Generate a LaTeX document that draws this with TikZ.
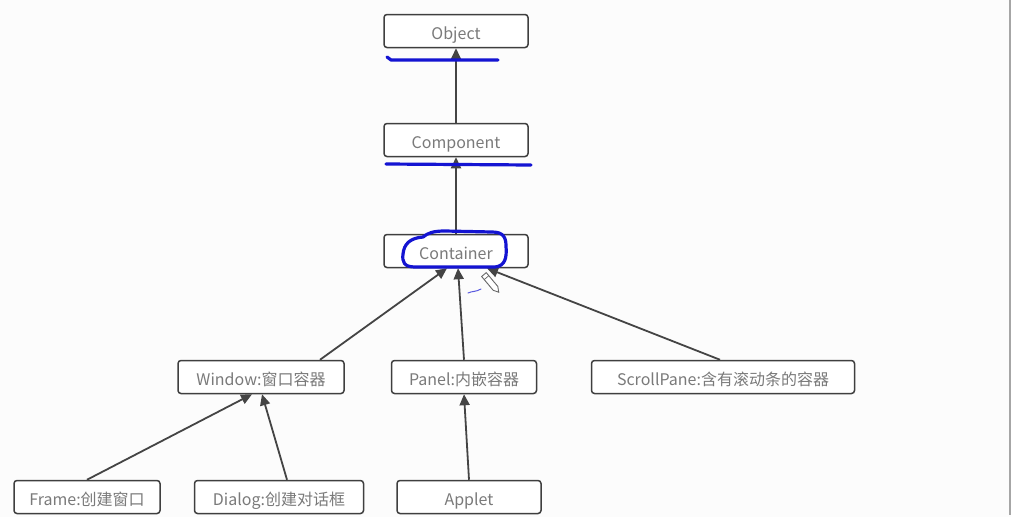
\documentclass[tikz,border=0pt]{standalone}
\usepackage{fontspec}
\setmainfont{Noto Sans CJK SC}
\usetikzlibrary{arrows.meta}
\definecolor{boxline}{HTML}{3F3F3F}
\definecolor{boxtext}{HTML}{7A7A7A}
\definecolor{linkline}{HTML}{444444}
\definecolor{ink}{HTML}{1414D2}
\tikzset{
  cls/.style={draw=boxline, line width=1.5pt, rounded corners=3pt, fill=white,
    minimum height=33pt, inner sep=0pt, text height=16pt, text depth=0pt,
    text=boxtext, font=\fontsize{16}{18}\selectfont},
  inherit/.style={draw=linkline, line width=1.8pt,
    -{Triangle[length=11pt,width=10pt]}},
  pen/.style={draw=ink, line width=3.2pt, line cap=round, line join=round},
}
\begin{document}
\begin{tikzpicture}[x=1pt,y=-1pt]
\useasboundingbox (0,0) rectangle (1011,517);
\fill[white!99!black] (0,0) rectangle (1011,517);
\draw[gray!70, line width=1.2pt] (1010,0) -- (1010,515);

% class boxes
\node[cls, minimum width=144pt] (object)    at (456,31)  {Object};
\node[cls, minimum width=144pt] (component) at (456,140) {Component};
\node[cls, minimum width=144pt] (container) at (456,251) {Container};
\node[cls, minimum width=166pt] (window)    at (261,377) {Window:窗口容器};
\node[cls, minimum width=145pt] (panel)     at (464,377) {Panel:内嵌容器};
\node[cls, minimum width=263pt] (scroll)    at (723,377) {ScrollPane:含有滚动条的容器};
\node[cls, minimum width=146pt] (frame)     at (87,497)  {Frame:创建窗口};
\node[cls, minimum width=169pt] (dialog)    at (279,497) {Dialog:创建对话框};
\node[cls, minimum width=144pt] (applet)    at (469,497) {Applet};

% inheritance links
\draw[inherit] (component.north) -- (object.south);
\draw[inherit] (container.north) -- (component.south);
\draw[inherit] (window.north -| 320,0) -- (container.south -| 447,0);
\draw[inherit] (panel.north) -- (container.south -| 458,0);
\draw[inherit] (scroll.north -| 720,0) -- (container.south -| 487,0);
\draw[inherit] (frame.north) -- (window.south -| 252,0);
\draw[inherit] (dialog.north -| 287,0) -- (window.south -| 262,0);
\draw[inherit] (applet.north) -- (panel.south);

% hand-drawn marks
\draw[pen] (387,57) -- (391,60) -- (498,60);
\draw[pen] (386,164) -- (531,165);
\draw[pen] (423,237) .. controls (428,233) and (433,231) .. (445,231)
  -- (492,232) .. controls (503,232) and (506,237) .. (506,246)
  .. controls (507,258) and (505,266) .. (495,267)
  -- (415,267) .. controls (404,267) and (402,262) .. (403,254)
  .. controls (404,244) and (410,238) .. (423,237);
\draw[ink!70, line width=1pt, line cap=round] (468,293) .. controls (472,291) and (476,292) .. (481,289);

% pointer
\begin{scope}[shift={(491,283)}, rotate=40]
  \draw[gray!80!black, fill=white, line width=0.9pt]
    (-3,-11) -- (3,-11) -- (3,7) -- (0,12) -- (-3,7) -- cycle;
  \draw[gray!80!black, line width=0.7pt] (-3,-7) -- (3,-7);
\end{scope}
\end{tikzpicture}
\end{document}
